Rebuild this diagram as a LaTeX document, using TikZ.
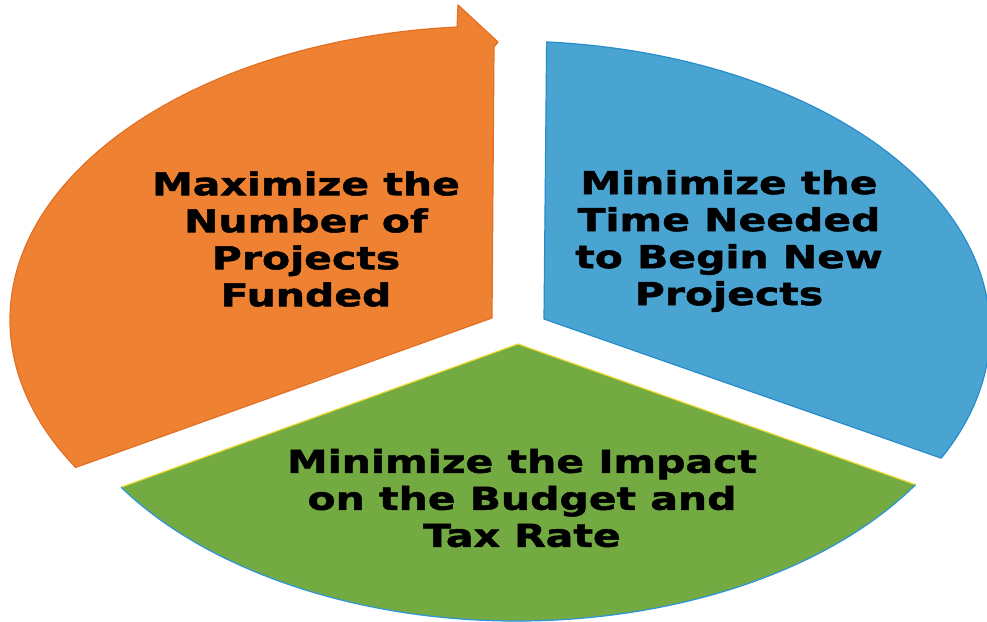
\documentclass[tikz,border=0pt]{standalone}
\usepackage{fontspec}
\newfontfamily\labelfont{DejaVu Sans}[FakeStretch=1.30,FakeBold=1.6]
\definecolor{segorange}{RGB}{238,130,50}
\definecolor{segorangeedge}{RGB}{226,112,36}
\definecolor{segblue}{RGB}{74,164,210}
\definecolor{segblueedge}{RGB}{38,140,202}
\definecolor{seggreen}{RGB}{116,170,66}
\definecolor{seggreentop}{RGB}{238,218,50}
\definecolor{seggreenbottom}{RGB}{44,150,220}
\begin{document}
\begin{tikzpicture}[x=1pt,y=-1pt,
  segtext/.style={align=center, text=black, inner sep=0pt,
    font={\labelfont\bfseries\fontsize{31.5}{37}\selectfont}},
  segedge/.style={line width=1.2pt, line join=round}]
\useasboundingbox (0,0) rectangle (987,621);
\fill[white] (0,0) rectangle (987,621);

% arc end points of the three segments
\path (497,320) ++(265.3:487 and 294) coordinate (o1);
\path (508,331) ++(274.6:482 and 290) coordinate (b1);
\path (517,331) ++(32:470 and 290) coordinate (g1);
\path (517,331) ++(147.4:470 and 290) coordinate (g2);

% orange segment with its arrow head
\filldraw[fill=segorange, draw=segorangeedge, segedge]
  (o1) arc[start angle=265.3, end angle=149.9, x radius=487, y radius=294]
  -- (492,318) -- (494,47) -- (498,42) -- (458,5) -- cycle;

% blue segment
\filldraw[fill=segblue, draw=segblueedge, segedge]
  (b1) arc[start angle=274.6, end angle=386, x radius=482, y radius=290]
  -- (544,319) -- cycle;

% green segment
\fill[seggreen] (518,344) -- (g1)
  arc[start angle=32, end angle=147.4, x radius=470, y radius=290] -- cycle;
\draw[seggreentop, segedge] (g2) -- (518,344) -- (g1);
\draw[seggreenbottom, segedge] (g1)
  arc[start angle=32, end angle=147.4, x radius=470, y radius=290];

% labels
\node[segtext] (maxfunded) at (306,239) {Maximize the\\Number of\\Projects\\Funded};
\node[segtext] (mintime) at (729,241) {Minimize the\\Time Needed\\to Begin New\\Projects};
\node[segtext] (minimpact) at (522,498) {Minimize the Impact\\on the Budget and\\Tax Rate};
\end{tikzpicture}
\end{document}
